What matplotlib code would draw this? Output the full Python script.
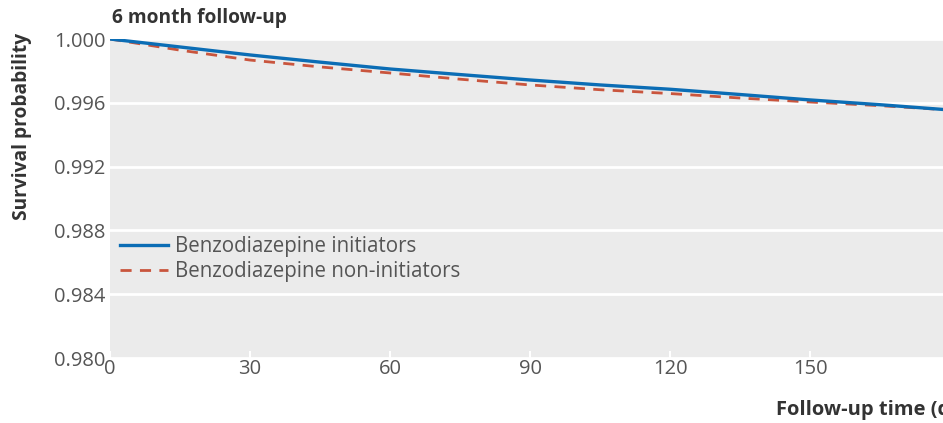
import numpy as np
import matplotlib.pyplot as plt

# survival curves (days, probability)
days = [0, 15, 30, 45, 60, 75, 90, 105, 120, 135, 150, 165, 180]
initiators = [1.0, 0.99950, 0.99900, 0.99855, 0.99812, 0.99777, 0.99743, 0.99712, 0.99685, 0.99652, 0.99618, 0.99588, 0.99555]
non_initiators = [1.0, 0.99930, 0.99868, 0.99825, 0.99787, 0.99748, 0.99712, 0.99682, 0.99658, 0.99630, 0.99605, 0.99582, 0.99555]

x_ticks = [0, 30, 60, 90, 120, 150]
y_ticks = [0.980, 0.984, 0.988, 0.992, 0.996, 1.000]

plt.rcParams['font.family'] = ['Open Sans', 'DejaVu Sans']

fig = plt.figure(figsize=(9.43, 4.23), dpi=100)
W, H = 943, 423
left, right, top, bottom = 110, 950, 39, 358
ax = fig.add_axes([left / W, 1 - bottom / H, (right - left) / W, (bottom - top) / H])
ax.set_facecolor('#ebebeb')

ax.plot(days, initiators, color='#0b6db5', lw=2.4, label='Benzodiazepine initiators', zorder=3)
ax.plot(days, non_initiators, color='#c9553d', lw=2.0, ls=(0, (4, 3)), label='Benzodiazepine non-initiators', zorder=2)

ax.set_xlim(0, 180)
ax.set_ylim(0.980, 1.000)
ax.set_xticks(x_ticks)
ax.set_yticks(y_ticks)
ax.set_yticklabels([f'{v:.3f}' for v in y_ticks])
ax.yaxis.grid(True, color='white', lw=2)
ax.set_axisbelow(True)
for s in ax.spines.values():
    s.set_visible(False)
ax.tick_params(axis='x', direction='in', color='white', length=5, width=1.5,
               labelsize=14.5, labelcolor='#555555', pad=1)
ax.tick_params(axis='y', length=0, labelsize=14.5, labelcolor='#555555', pad=3)

fig.text(112 / W, 1 - 18 / H, '6 month follow-up', fontsize=13.8, fontweight='bold',
         color='#333333', va='center', ha='left')
fig.text(22 / W, 1 - 126 / H, 'Survival probability', fontsize=13.8, fontweight='bold',
         color='#333333', rotation=90, va='center', ha='center')
fig.text(776 / W, 1 - 410 / H, 'Follow-up time (days)', fontsize=14.5, fontweight='bold',
         color='#333333', va='center', ha='left')

ax.legend(loc='center left', bbox_to_anchor=(0.002, 0.309), borderaxespad=0, frameon=False,
          fontsize=14.8, labelcolor='#555555', handlelength=2.35, handletextpad=0.35,
          labelspacing=0.2)

fig.savefig('out.png', dpi=100)
